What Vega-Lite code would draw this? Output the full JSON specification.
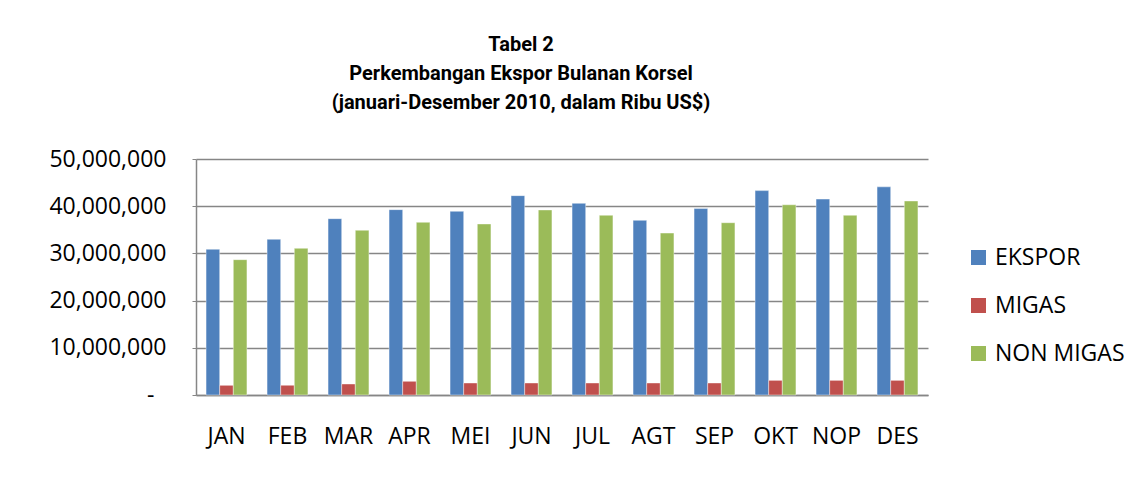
{
  "$schema": "https://vega.github.io/schema/vega-lite/v6.json",
  "autosize": "none",
  "width": 732,
  "height": 236,
  "padding": {"left": 196, "top": 159, "right": 218, "bottom": 82},
  "background": "white",
  "title": {
    "text": ["Tabel 2", "Perkembangan Ekspor Bulanan Korsel", "(januari-Desember 2010, dalam Ribu US$)"],
    "font": "Roboto",
    "fontSize": 20,
    "fontWeight": "bold",
    "color": "#000000",
    "lineHeight": 29,
    "anchor": "middle",
    "dx": -41,
    "offset": 35
  },
  "data": {
    "values": [
      {"bulan": "JAN", "seri": "EKSPOR", "nilai": 30870000},
      {"bulan": "JAN", "seri": "MIGAS", "nilai": 2050000},
      {"bulan": "JAN", "seri": "NON MIGAS", "nilai": 28670000},
      {"bulan": "FEB", "seri": "EKSPOR", "nilai": 32980000},
      {"bulan": "FEB", "seri": "MIGAS", "nilai": 2050000},
      {"bulan": "FEB", "seri": "NON MIGAS", "nilai": 31070000},
      {"bulan": "MAR", "seri": "EKSPOR", "nilai": 37360000},
      {"bulan": "MAR", "seri": "MIGAS", "nilai": 2330000},
      {"bulan": "MAR", "seri": "NON MIGAS", "nilai": 34900000},
      {"bulan": "APR", "seri": "EKSPOR", "nilai": 39270000},
      {"bulan": "APR", "seri": "MIGAS", "nilai": 2900000},
      {"bulan": "APR", "seri": "NON MIGAS", "nilai": 36580000},
      {"bulan": "MEI", "seri": "EKSPOR", "nilai": 38910000},
      {"bulan": "MEI", "seri": "MIGAS", "nilai": 2540000},
      {"bulan": "MEI", "seri": "NON MIGAS", "nilai": 36230000},
      {"bulan": "JUN", "seri": "EKSPOR", "nilai": 42240000},
      {"bulan": "JUN", "seri": "MIGAS", "nilai": 2540000},
      {"bulan": "JUN", "seri": "NON MIGAS", "nilai": 39200000},
      {"bulan": "JUL", "seri": "EKSPOR", "nilai": 40600000},
      {"bulan": "JUL", "seri": "MIGAS", "nilai": 2540000},
      {"bulan": "JUL", "seri": "NON MIGAS", "nilai": 38070000},
      {"bulan": "AGT", "seri": "EKSPOR", "nilai": 37000000},
      {"bulan": "AGT", "seri": "MIGAS", "nilai": 2540000},
      {"bulan": "AGT", "seri": "NON MIGAS", "nilai": 34300000},
      {"bulan": "SEP", "seri": "EKSPOR", "nilai": 39500000},
      {"bulan": "SEP", "seri": "MIGAS", "nilai": 2540000},
      {"bulan": "SEP", "seri": "NON MIGAS", "nilai": 36500000},
      {"bulan": "OKT", "seri": "EKSPOR", "nilai": 43300000},
      {"bulan": "OKT", "seri": "MIGAS", "nilai": 3100000},
      {"bulan": "OKT", "seri": "NON MIGAS", "nilai": 40300000},
      {"bulan": "NOP", "seri": "EKSPOR", "nilai": 41500000},
      {"bulan": "NOP", "seri": "MIGAS", "nilai": 3100000},
      {"bulan": "NOP", "seri": "NON MIGAS", "nilai": 38070000},
      {"bulan": "DES", "seri": "EKSPOR", "nilai": 44100000},
      {"bulan": "DES", "seri": "MIGAS", "nilai": 3100000},
      {"bulan": "DES", "seri": "NON MIGAS", "nilai": 41100000}
    ]
  },
  "mark": {"type": "bar", "stroke": "#ffffff", "strokeOpacity": 0.5, "strokeWidth": 0.8},
  "encoding": {
    "x": {
      "field": "bulan",
      "type": "nominal",
      "sort": ["JAN", "FEB", "MAR", "APR", "MEI", "JUN", "JUL", "AGT", "SEP", "OKT", "NOP", "DES"],
      "scale": {"paddingInner": 0.33, "paddingOuter": 0.165},
      "axis": {
        "title": null,
        "labelAngle": 0,
        "labelFont": "Open Sans",
        "labelFontSize": 23,
        "labelColor": "#000000",
        "labelPadding": 30,
        "ticks": false,
        "domain": true,
        "domainColor": "#868686",
        "domainWidth": 1.5,
        "grid": false
      }
    },
    "xOffset": {
      "field": "seri",
      "type": "nominal",
      "sort": ["EKSPOR", "MIGAS", "NON MIGAS"],
      "scale": {"paddingInner": 0, "paddingOuter": 0}
    },
    "y": {
      "field": "nilai",
      "type": "quantitative",
      "scale": {"domain": [0, 50000000], "nice": false},
      "axis": {
        "title": null,
        "values": [0, 10000000, 20000000, 30000000, 40000000, 50000000],
        "labelExpr": "datum.value === 0 ? '-' : format(datum.value, ',')",
        "labelFont": "Open Sans",
        "labelFontSize": 23,
        "labelColor": "#000000",
        "labelPadding": {"condition": {"test": "datum.value === 0", "value": 38}, "value": 26},
        "ticks": true,
        "tickSize": 4,
        "tickColor": "#868686",
        "domain": true,
        "domainColor": "#868686",
        "domainWidth": 1.5,
        "grid": true,
        "gridColor": "#868686",
        "gridWidth": 1.5
      }
    },
    "color": {
      "field": "seri",
      "type": "nominal",
      "sort": ["EKSPOR", "MIGAS", "NON MIGAS"],
      "scale": {"domain": ["EKSPOR", "MIGAS", "NON MIGAS"], "range": ["#4F81BD", "#C0504D", "#9BBB59"]},
      "legend": {
        "title": null,
        "orient": "none",
        "legendX": 771,
        "legendY": 87,
        "padding": 0,
        "symbolType": "square",
        "symbolSize": 225,
        "symbolStrokeWidth": 0,
        "labelFont": "Open Sans",
        "labelFontSize": 23,
        "labelColor": "#000000",
        "labelOffset": 5,
        "rowPadding": 24
      }
    }
  },
  "config": {"view": {"stroke": null}}
}
